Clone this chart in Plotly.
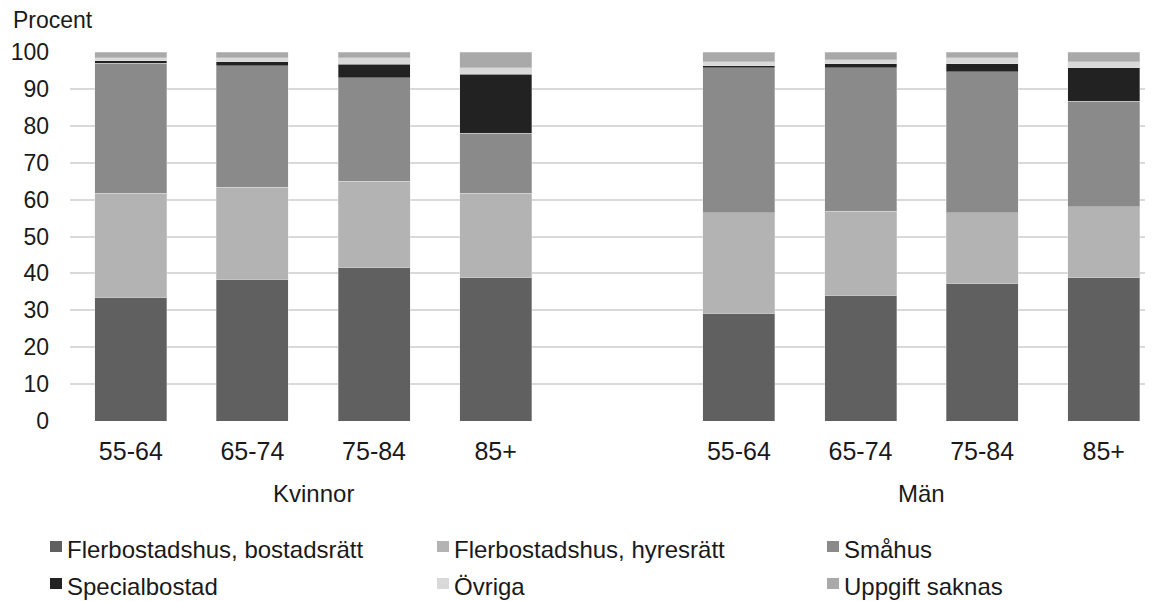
import plotly.graph_objects as go

# ---- data ----
age_groups = ["55-64", "65-74", "75-84", "85+"]
genders = ["Kvinnor", "Män"]
series_names = ["Flerbostadshus, bostadsrätt", "Flerbostadshus, hyresrätt", "Småhus",
                "Specialbostad", "Övriga", "Uppgift saknas"]

bostadsratt_k = [33.4, 38.3, 41.5, 38.8]
hyresratt_k = [28.3, 25.1, 23.5, 22.9]
smahus_k = [35.3, 32.9, 28.0, 16.3]
special_k = [0.6, 1.0, 3.7, 16.0]
ovriga_k = [0.9, 1.2, 1.8, 1.7]
saknas_k = [1.5, 1.5, 1.5, 4.3]

bostadsratt_m = [29.1, 34.0, 37.2, 38.8]
hyresratt_m = [27.3, 22.9, 19.2, 19.2]
smahus_m = [39.3, 38.8, 38.3, 28.6]
special_m = [0.6, 1.1, 2.1, 9.1]
ovriga_m = [1.1, 1.1, 1.7, 1.7]
saknas_m = [2.6, 2.1, 1.5, 2.6]

y_ticks = [0, 10, 20, 30, 40, 50, 60, 70, 80, 90, 100]

# ---- style ----
colors = ["#606060", "#b3b3b3", "#8a8a8a", "#222222", "#d9d9d9", "#a9a9a9"]
FONT = "Liberation Sans, Arial, sans-serif"
TXT = "#1a1a1a"

# slot positions: 4 women, one empty slot, 4 men
pos_k = [0, 1, 2, 3]
pos_m = [5, 6, 7, 8]
xpos = pos_k + pos_m

series_vals = [
    bostadsratt_k + bostadsratt_m,
    hyresratt_k + hyresratt_m,
    smahus_k + smahus_m,
    special_k + special_m,
    ovriga_k + ovriga_m,
    saknas_k + saknas_m,
]

fig = go.Figure()
for name, vals, col in zip(series_names, series_vals, colors):
    fig.add_trace(go.Bar(
        x=xpos, y=vals, name=name, width=0.592,
        marker=dict(color=col, line=dict(color="rgba(230,230,230,0.6)", width=0.6)),
        showlegend=False,
    ))

# page body has an 8px margin; work in window pixels
OFF = 8
W, H = 1153 - OFF, 601 - OFF
L = 70 - OFF
T = 52 - OFF
B = H - (421 - OFF)
plot_w = W - L
plot_h = H - T - B

fig.update_layout(
    width=W, height=H,
    barmode="stack",
    paper_bgcolor="white", plot_bgcolor="white",
    margin=dict(l=L, r=0, t=T, b=B, pad=0),
    font=dict(family=FONT, size=24, color=TXT),
    xaxis=dict(
        range=[-0.5, 8.405],
        tickmode="array", tickvals=xpos, ticktext=age_groups + age_groups,
        showgrid=False, zeroline=False, showline=False, ticks="",
        ticklabelstandoff=13,
        tickfont=dict(family=FONT, size=25, color=TXT),
    ),
    yaxis=dict(
        range=[0, 100],
        tickmode="array", tickvals=y_ticks,
        showgrid=True, gridcolor="#d9d9d9", gridwidth=2,
        zeroline=False, showline=False, ticks="",
        ticklabelstandoff=20,
        tickfont=dict(family=FONT, size=23, color=TXT),
    ),
)

def px_to_paper_x(px):
    return (px - OFF - L) / plot_w

def px_to_paper_y(py):
    return (H - B - (py - OFF)) / plot_h

annotations = [
    dict(text="Procent", x=px_to_paper_x(11), y=px_to_paper_y(20), xref="paper", yref="paper",
         xanchor="left", yanchor="middle", showarrow=False, font=dict(size=23, color=TXT)),
    dict(text=genders[0], x=1.5, y=px_to_paper_y(493), xref="x", yref="paper",
         xanchor="center", yanchor="middle", showarrow=False, font=dict(size=24, color=TXT)),
    dict(text=genders[1], x=6.5, y=px_to_paper_y(493), xref="x", yref="paper",
         xanchor="center", yanchor="middle", showarrow=False, font=dict(size=24, color=TXT)),
]

# legend laid out in 3 columns, 2 rows
col_marker_x = [50, 437, 827]
row_y = [547, 584]
shapes = []
for i, (name, col) in enumerate(zip(series_names, colors)):
    r, c = divmod(i, 3)
    mx = col_marker_x[c]
    my = row_y[r]
    shapes.append(dict(type="rect", xref="paper", yref="paper",
                       x0=px_to_paper_x(mx), x1=px_to_paper_x(mx + 12),
                       y0=px_to_paper_y(my + 5), y1=px_to_paper_y(my - 6),
                       fillcolor=col, line=dict(width=0)))
    annotations.append(dict(text=name, x=px_to_paper_x(mx + 15), y=px_to_paper_y(my + 2),
                            xref="paper", yref="paper", xanchor="left", yanchor="middle",
                            showarrow=False, font=dict(size=24, color=TXT)))

fig.update_layout(annotations=annotations, shapes=shapes)

fig.write_html("out.html")
